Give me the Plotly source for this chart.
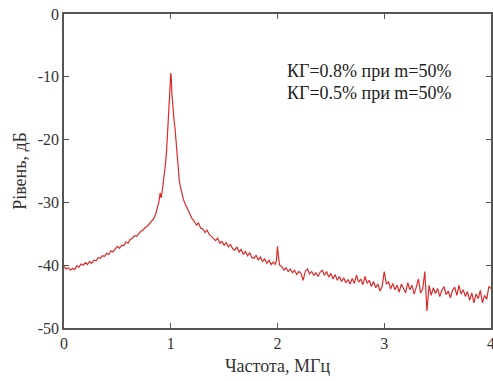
import plotly.graph_objects as go

# Spectrum (frequency in MHz, level in dB)
freq_low = [0.00, 0.02, 0.04, 0.06, 0.08, 0.10, 0.12, 0.14, 0.16, 0.18, 0.20, 0.22, 0.24, 0.26,
            0.28, 0.30, 0.32, 0.34, 0.36, 0.38, 0.40, 0.42, 0.44, 0.46, 0.48, 0.50, 0.52, 0.54,
            0.56, 0.58, 0.60, 0.62, 0.64, 0.66, 0.68, 0.70, 0.72, 0.74, 0.76, 0.78, 0.80, 0.82]
level_low = [-40.2, -40.6, -40.4, -40.8, -40.5, -40.7, -40.1, -40.3, -39.8, -40.0, -39.6, -39.9,
             -39.4, -39.7, -39.2, -39.3, -38.8, -38.9, -38.5, -38.6, -38.1, -38.3, -37.7, -37.9,
             -37.4, -37.0, -37.3, -36.8, -36.9, -36.3, -36.5, -35.9, -35.7, -35.3, -35.4, -34.9,
             -34.6, -34.4, -34.0, -33.8, -33.4, -33.0]

freq_peak = [0.84, 0.86, 0.88, 0.89, 0.90, 0.91, 0.92, 0.93, 0.94, 0.95, 0.96, 0.97, 0.98, 0.99,
             1.00, 1.005, 1.01, 1.02, 1.03, 1.04, 1.05, 1.06, 1.07, 1.08, 1.09, 1.10, 1.11, 1.12,
             1.14, 1.16, 1.18, 1.20]
level_peak = [-32.6, -31.8, -30.6, -29.8, -28.5, -29.3, -28.2, -27.0, -25.6, -24.0, -22.0, -19.5,
              -16.5, -12.8, -9.4, -10.2, -12.5, -15.0, -16.8, -18.2, -20.5, -23.0, -25.0, -26.5,
              -27.5, -28.2, -29.0, -29.6, -30.4, -31.2, -31.9, -32.6]

freq_mid = [1.22, 1.24, 1.26, 1.28, 1.30, 1.32, 1.34, 1.36, 1.38, 1.40, 1.42, 1.44, 1.46, 1.48,
            1.50, 1.52, 1.54, 1.56, 1.58, 1.60, 1.62, 1.64, 1.66, 1.68, 1.70, 1.72, 1.74, 1.76,
            1.78, 1.80, 1.82, 1.84, 1.86, 1.88, 1.90, 1.92, 1.94, 1.96, 1.98, 1.99, 2.00, 2.01,
            2.02]
level_mid = [-33.0, -33.6, -33.3, -34.1, -34.2, -34.8, -34.4, -35.1, -35.4, -35.8, -36.1, -35.7,
             -36.5, -36.2, -36.8, -36.4, -37.1, -36.7, -37.4, -37.6, -37.1, -37.9, -37.5, -38.3,
             -37.8, -38.5, -38.0, -38.8, -38.9, -38.4, -39.2, -38.7, -39.4, -39.0, -39.7, -39.2,
             -39.9, -39.5, -39.9, -39.2, -37.0, -38.8, -40.0]

freq_high = [2.04, 2.06, 2.08, 2.10, 2.12, 2.14, 2.16, 2.18, 2.20, 2.22, 2.24, 2.26, 2.28, 2.30,
             2.32, 2.34, 2.36, 2.38, 2.40, 2.42, 2.44, 2.46, 2.48, 2.50, 2.52, 2.54, 2.56, 2.58,
             2.60, 2.62, 2.64, 2.66, 2.68, 2.70, 2.72, 2.74, 2.76, 2.78, 2.80, 2.82, 2.84, 2.86,
             2.88, 2.90, 2.92, 2.94, 2.96, 2.98, 3.00, 3.02, 3.04, 3.06, 3.08, 3.10, 3.12, 3.14,
             3.16, 3.18, 3.20, 3.22, 3.24, 3.26, 3.28, 3.30, 3.32, 3.34, 3.36, 3.38, 3.40, 3.42,
             3.44, 3.46, 3.48, 3.50, 3.52, 3.54, 3.56, 3.58, 3.60, 3.62, 3.64, 3.66, 3.68, 3.70,
             3.72, 3.74, 3.76, 3.78, 3.80, 3.82, 3.84, 3.86, 3.88, 3.90, 3.92, 3.94, 3.96, 3.98,
             4.00]
level_high = [-40.2, -40.8, -40.4, -41.0, -40.6, -41.2, -40.8, -41.5, -41.0, -41.3, -42.4, -41.0,
              -40.6, -41.4, -41.0, -41.6, -41.2, -41.8, -41.1, -40.8, -41.6, -41.0, -41.9, -41.3,
              -42.2, -41.5, -42.4, -41.8, -42.6, -42.0, -42.8, -42.3, -43.0, -42.1, -42.9, -41.6,
              -42.7, -42.2, -43.1, -41.8, -42.9, -42.4, -43.4, -42.6, -43.6, -43.0, -44.1, -43.4,
              -41.0, -43.0, -42.6, -43.8, -42.9, -43.9, -43.2, -44.3, -43.0, -43.6, -44.4, -42.8,
              -43.9, -43.2, -44.6, -43.5, -42.2, -44.4, -43.8, -41.0, -47.3, -43.2, -44.8, -43.6,
              -44.5, -43.7, -45.0, -44.0, -43.4, -44.7, -44.1, -45.2, -44.0, -43.5, -44.8, -43.2,
              -44.6, -43.9, -45.0, -44.2, -45.6, -44.4, -46.0, -44.6, -45.3, -44.0, -46.0, -44.8,
              -45.4, -43.4, -43.7]

frequency = freq_low + freq_peak + freq_mid + freq_high
level = level_low + level_peak + level_mid + level_high

x_ticks = [0, 1, 2, 3, 4]
y_ticks = [0, -10, -20, -30, -40, -50]
notes = ["КГ=0.8% при m=50%", "КГ=0.5% при m=50%"]

FONT = "Liberation Serif"
AXIS_COLOR = "#555555"

fig = go.Figure()
fig.add_trace(go.Scatter(x=frequency, y=level, mode="lines",
                         line=dict(color="#dc2a2a", width=1.2), showlegend=False))

axis_common = dict(showline=True, linecolor=AXIS_COLOR, linewidth=1.5, mirror="ticks",
                   ticks="inside", ticklen=5, tickcolor=AXIS_COLOR, tickwidth=1.2,
                   showgrid=False, zeroline=False, automargin=False,
                   ticklabeloverflow="allow",
                   tickfont=dict(family=FONT, size=16, color="#333333"))

fig.update_xaxes(range=[0, 4], tickvals=x_ticks, ticktext=[str(v) for v in x_ticks],
                 title=dict(text="Частота, МГц", font=dict(family=FONT, size=18, color="#333333"),
                            standoff=8),
                 **axis_common)
fig.update_yaxes(range=[-50, 0], tickvals=y_ticks, ticktext=[str(v) for v in y_ticks],
                 title=dict(text="Рівень, дБ", font=dict(family=FONT, size=18, color="#333333"),
                            standoff=6),
                 **axis_common)

for i, txt in enumerate(notes):
    fig.add_annotation(x=2.86, y=[-9.0, -12.5][i], text=txt, showarrow=False,
                       xanchor="center", yanchor="middle",
                       font=dict(family=FONT, size=18, color="#222222"))

fig.update_layout(width=493, height=381, margin=dict(l=64, r=2, t=14, b=53),
                  plot_bgcolor="white", paper_bgcolor="white", font=dict(family=FONT))

fig.write_html("out.html", config={"displayModeBar": False},
               post_script="document.body.style.margin='0';")
